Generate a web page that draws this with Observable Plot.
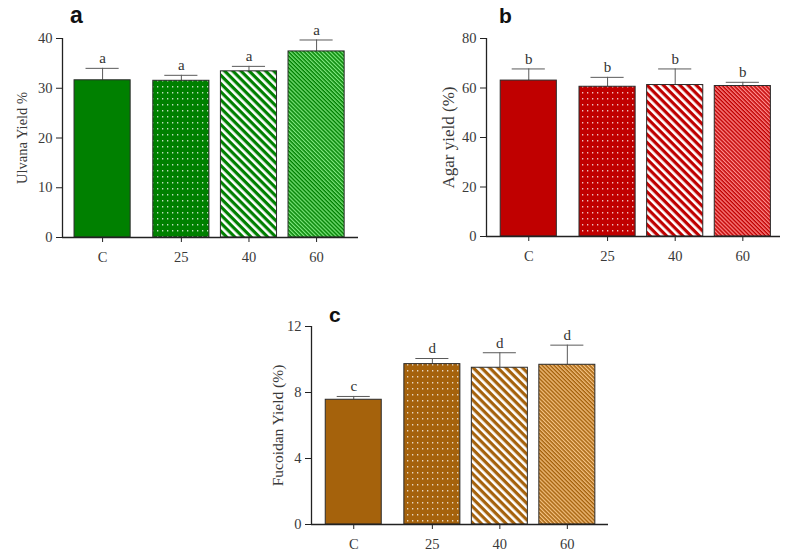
<!DOCTYPE html>
<html><head><meta charset="utf-8">
<script src="https://cdn.jsdelivr.net/npm/d3@7"></script>
<script src="https://cdn.jsdelivr.net/npm/@observablehq/plot@0.6"></script>
<style>
body{margin:0;background:#fff;}
#root{position:relative;width:791px;height:554px;overflow:hidden;background:#fff;}
#root > svg{position:absolute;}
</style></head><body><div id="root"></div>
<script>
// ---- data ----
const categories = ["C", "25", "40", "60"];
const ulvanaMean = [31.6, 31.5, 33.4, 37.4];
const ulvanaSD = [2.4, 1.1, 1.0, 2.3];
const ulvanaLetters = ["a", "a", "a", "a"];
const agarMean = [63.0, 60.5, 61.2, 60.8];
const agarSD = [4.7, 3.8, 6.5, 1.5];
const agarLetters = ["b", "b", "b", "b"];
const fucoidanMean = [7.56, 9.72, 9.50, 9.68];
const fucoidanSD = [0.20, 0.34, 0.91, 1.19];
const fucoidanLetters = ["c", "d", "d", "d"];
const ulvanaTicks = [0, 10, 20, 30, 40];
const agarTicks = [0, 20, 40, 60, 80];
const fucoidanTicks = [0, 4, 8, 12];
const panelLetters = ["a", "b", "c"];
const axisTitles = ["Ulvana Yield %", "Agar yield (%)", "Fucoidan Yield (%)"];

// ---- layout/style ----
const SERIF = "'Liberation Serif', 'Times New Roman', serif";
const GAP = 0.165, HALF = 0.415, CAP = 0.245;
const PAT = ["solid", "dots", "wide", "fine"];
const pos = i => i === 0 ? 0 : i + GAP;

const panels = [
  {id: "pa", left: 0, top: 0, width: 380, height: 270, mL: 62, mT: 38, mB: 33, mR: 22,
   padL: 0.593, padR: 0.62, yMax: 40, ticks: ulvanaTicks, mean: ulvanaMean, sd: ulvanaSD,
   letters: ulvanaLetters, title: axisTitles[0], titleSize: 14.5, titleOff: 40,
   base: "#008000", light: "#7ee67e"},
  {id: "pb", left: 400, top: 0, width: 391, height: 270, mL: 86, mT: 38, mB: 34, mR: 11,
   padL: 0.625, padR: 0.557, yMax: 80, ticks: agarTicks, mean: agarMean, sd: agarSD,
   letters: agarLetters, title: axisTitles[1], titleSize: 17, titleOff: 38,
   base: "#c00000", light: "#ff8c8c"},
  {id: "pc", left: 250, top: 290, width: 370, height: 264, mL: 61, mT: 36, mB: 30, mR: 12,
   padL: 0.626, padR: 0.61, yMax: 12, ticks: fucoidanTicks, mean: fucoidanMean, sd: fucoidanSD,
   letters: fucoidanLetters, title: axisTitles[2], titleSize: 15.5, titleOff: 33,
   base: "#a5620c", light: "#f5c283"}
];

function addPatterns(svg, p) {
  const defs = d3.select(svg).insert("defs", ":first-child");
  const mk = (name, w, h, rot) => {
    const pat = defs.append("pattern").attr("id", `${p.id}-${name}`)
      .attr("patternUnits", "userSpaceOnUse").attr("width", w).attr("height", h);
    if (rot) pat.attr("patternTransform", `rotate(${rot})`);
    pat.append("rect").attr("width", w).attr("height", h).attr("fill", p.base);
    return pat;
  };
  mk("solid", 10, 10);
  mk("dots", 5, 6).append("rect").attr("x", 2).attr("y", 2).attr("width", 1.3).attr("height", 1.5)
    .attr("fill", "rgba(255,255,255,0.75)");
  mk("wide", 5.8, 10, -45).append("rect").attr("width", 2.6).attr("height", 10).attr("fill", "#ffffff");
  mk("fine", 2.8, 10, -45).append("rect").attr("width", 1.3).attr("height", 10).attr("fill", p.light);
}

const root = document.getElementById("root");

panels.forEach(p => {
  const rows = categories.map((c, i) => ({
    cat: c, x: pos(i), mean: p.mean[i], top: p.mean[i] + p.sd[i], letter: p.letters[i],
    fill: `url(#${p.id}-${PAT[i]})`
  }));
  const xs = rows.map(d => d.x);
  const svg = Plot.plot({
    width: p.width, height: p.height,
    marginLeft: p.mL, marginRight: p.mR, marginTop: p.mT, marginBottom: p.mB,
    x: {type: "linear", domain: [-p.padL, pos(categories.length - 1) + p.padR], axis: null},
    y: {domain: [0, p.yMax], axis: null},
    color: {type: "identity"},
    style: {fontFamily: SERIF, fontSize: "14px", color: "#333", background: "transparent", overflow: "visible"},
    marks: [
      Plot.ruleX(rows, {x: "x", y1: "mean", y2: "top", stroke: "#5a5a5a", strokeWidth: 1}),
      Plot.ruleY(rows, {y: "top", x1: d => d.x - CAP, x2: d => d.x + CAP, stroke: "#5a5a5a", strokeWidth: 1}),
      Plot.rectY(rows, {x1: d => d.x - HALF, x2: d => d.x + HALF, y1: 0, y2: "mean", fill: "fill",
        stroke: "#2b2b2b", strokeWidth: 1}),
      Plot.text(rows, {x: "x", y: "top", text: "letter", dy: -10, fontSize: 15, fill: "#333"}),
      Plot.axisY({ticks: p.ticks, tickSize: 6, tickPadding: 4, label: null, fontSize: 14.5,
        stroke: "#222", fill: "#3a3a3a"}),
      Plot.axisX({ticks: xs, tickFormat: v => rows.find(r => Math.abs(r.x - v) < 1e-6).cat,
        tickSize: 5, tickPadding: 9, label: null, fontSize: 14.5, stroke: "#222", fill: "#3a3a3a"}),
      Plot.ruleX([-p.padL], {y1: 0, y2: p.yMax, stroke: "#222", strokeWidth: 1.3}),
      Plot.ruleY([0], {stroke: "#222", strokeWidth: 1.5}),
      Plot.text([p.title], {x: -p.padL, y: p.yMax / 2, text: d => d, rotate: -90, dx: -p.titleOff,
        fontSize: p.titleSize, fill: "#3a3a3a"})
    ]
  });
  addPatterns(svg, p);
  svg.style.left = p.left + "px";
  svg.style.top = p.top + "px";
  root.appendChild(svg);
});

// panel letters overlay
const overlay = d3.select(root).append("svg").attr("width", 791).attr("height", 554)
  .style("left", "0px").style("top", "0px").style("pointer-events", "none");
const letterPos = [{x: 70, y: 23, s: 23}, {x: 499, y: 23.3, s: 21}, {x: 329, y: 322.3, s: 21}];
panelLetters.forEach((l, i) => {
  overlay.append("text").attr("x", letterPos[i].x).attr("y", letterPos[i].y)
    .attr("font-family", "'Liberation Sans', Arial, sans-serif").attr("font-weight", "bold")
    .attr("font-size", letterPos[i].s).attr("fill", "#111").text(l);
});
</script></body></html>
